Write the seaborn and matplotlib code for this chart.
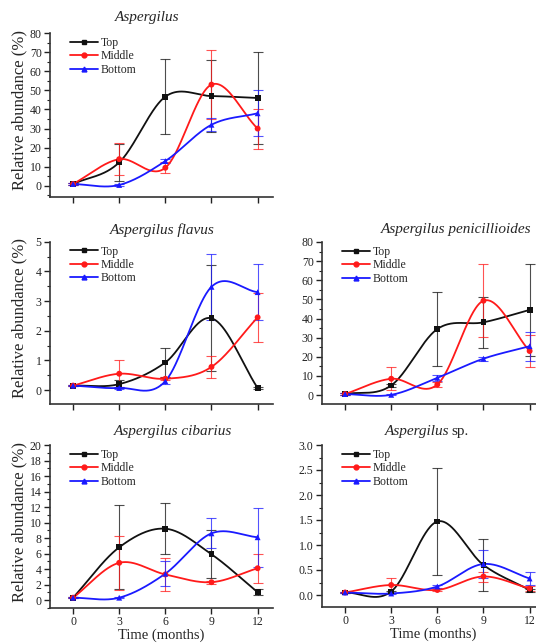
import numpy as np
import pandas as pd
import matplotlib
matplotlib.use("Agg")
import matplotlib.pyplot as plt
from matplotlib.lines import Line2D
from matplotlib.ticker import MultipleLocator
import seaborn as sns

sns.set_theme(style="ticks")
plt.rcParams['font.family'] = ['Liberation Serif', 'DejaVu Serif']

# ---------------- data ----------------
months = [0, 3, 6, 9, 12]
layers = ["Top", "Middle", "Bottom"]

# Aspergilus
asp_top = [1.0, 12.3, 46.7, 47.0, 46.0]
asp_top_err = [0.5, 9.5, 19.5, 19.0, 24.0]
asp_mid = [1.0, 14.0, 9.5, 53.0, 30.0]
asp_mid_err = [0.5, 8.5, 3.0, 18.0, 10.5]
asp_bot = [1.0, 0.5, 13.0, 32.0, 38.0]
asp_bot_err = [0.5, 0.5, 1.0, 3.5, 12.0]

# Aspergilus flavus
fla_top = [0.15, 0.20, 0.93, 2.42, 0.07]
fla_top_err = [0.03, 0.13, 0.48, 1.78, 0.02]
fla_mid = [0.15, 0.55, 0.38, 0.78, 2.45]
fla_mid_err = [0.03, 0.45, 0.05, 0.37, 0.82]
fla_bot = [0.15, 0.07, 0.30, 3.48, 3.30]
fla_bot_err = [0.03, 0.03, 0.10, 1.12, 0.95]

# Aspergilus penicillioides
pen_top = [0.5, 5.0, 34.5, 38.0, 44.5]
pen_top_err = [0.5, 1.0, 19.5, 13.4, 24.0]
pen_mid = [0.5, 8.5, 5.5, 49.3, 23.0]
pen_mid_err = [0.5, 6.0, 1.5, 19.0, 8.5]
pen_bot = [0.5, 0.1, 9.0, 19.0, 25.5]
pen_bot_err = [0.5, 0.3, 1.7, 1.0, 7.5]

# Aspergilus cibarius
cib_top = [0.3, 6.8, 9.2, 5.9, 1.0]
cib_top_err = [0.1, 5.4, 3.3, 3.1, 0.4]
cib_mid = [0.3, 4.8, 3.3, 2.3, 4.1]
cib_mid_err = [0.1, 3.5, 2.1, 0.2, 1.85]
cib_bot = [0.3, 0.3, 3.4, 8.6, 8.1]
cib_bot_err = [0.1, 0.1, 1.65, 1.95, 3.8]

# Aspergilus sp.
spp_top = [0.05, 0.07, 1.47, 0.60, 0.10]
spp_top_err = [0.01, 0.02, 1.07, 0.52, 0.03]
spp_mid = [0.05, 0.20, 0.10, 0.37, 0.13]
spp_mid_err = [0.01, 0.15, 0.02, 0.10, 0.05]
spp_bot = [0.05, 0.03, 0.17, 0.62, 0.33]
spp_bot_err = [0.01, 0.01, 0.03, 0.28, 0.13]

colors = {"Top": "#111111", "Middle": "#ff1a1a", "Bottom": "#1a1aff"}
markers = {"Top": "s", "Middle": "o", "Bottom": "^"}


def smooth_curve(x, y, n=60):
    """Cubic Hermite (Catmull-Rom style) connector through the data points."""
    x = np.asarray(x, float)
    y = np.asarray(y, float)
    m = len(x)
    slopes = np.zeros(m)
    slopes[0] = (y[1] - y[0]) / (x[1] - x[0])
    slopes[-1] = (y[-1] - y[-2]) / (x[-1] - x[-2])
    for i in range(1, m - 1):
        slopes[i] = (y[i + 1] - y[i - 1]) / (x[i + 1] - x[i - 1])
    xs_all, ys_all = [], []
    for i in range(m - 1):
        h = x[i + 1] - x[i]
        t = np.linspace(0, 1, n)
        h00 = 2 * t ** 3 - 3 * t ** 2 + 1
        h10 = t ** 3 - 2 * t ** 2 + t
        h01 = -2 * t ** 3 + 3 * t ** 2
        h11 = t ** 3 - t ** 2
        ys = h00 * y[i] + h10 * h * slopes[i] + h01 * y[i + 1] + h11 * h * slopes[i + 1]
        xs_all.append(x[i] + t * h)
        ys_all.append(ys)
    return np.concatenate(xs_all), np.concatenate(ys_all)


W, H = 536, 643
fig = plt.figure(figsize=(W / 100, H / 100), dpi=100)


def make_ax(left, right, top, bottom):
    return fig.add_axes([left / W, 1 - bottom / H, (right - left) / W, (bottom - top) / H])


panels = [
    ((asp_top, asp_mid, asp_bot), (asp_top_err, asp_mid_err, asp_bot_err),
     (50, 273, 33, 197), (-5.8, 80), 10, 5, False, True),
    ((fla_top, fla_mid, fla_bot), (fla_top_err, fla_mid_err, fla_bot_err),
     (50, 273, 241.7, 404), (-0.47, 5), 1, 0.5, False, True),
    ((pen_top, pen_mid, pen_bot), (pen_top_err, pen_mid_err, pen_bot_err),
     (322, 545, 242, 404), (-4.7, 80), 10, 5, False, False),
    ((cib_top, cib_mid, cib_bot), (cib_top_err, cib_mid_err, cib_bot_err),
     (50, 273, 445, 608), (-1.03, 20), 2, 1, True, True),
    ((spp_top, spp_mid, spp_bot), (spp_top_err, spp_mid_err, spp_bot_err),
     (322, 545, 445, 607), (-0.24, 3.0), 0.5, 0.25, True, False),
]

for series, errs, rect, ylim, major, minor, xlab, ylab in panels:
    ax = make_ax(*rect)
    df = pd.DataFrame({
        "Time": months * 3,
        "Value": [v for s in series for v in s],
        "Err": [e for s in errs for e in s],
        "Layer": [l for l in layers for _ in months],
    })
    for layer in layers:
        sub = df[df["Layer"] == layer]
        xs, ys = smooth_curve(sub["Time"], sub["Value"])
        ax.plot(xs, ys, color=colors[layer], lw=1.3, zorder=2)
        ax.errorbar(sub["Time"], sub["Value"], yerr=sub["Err"], fmt="none",
                    ecolor=colors[layer], elinewidth=0.8, capsize=3.5,
                    capthick=0.8, alpha=0.75, zorder=1)
    sns.scatterplot(data=df, x="Time", y="Value", hue="Layer", style="Layer",
                    palette=colors, markers=markers, s=18, edgecolor="none",
                    legend=False, ax=ax, zorder=3)
    ax.set_xlim(-1.5, 13)
    ax.set_xticks(months)
    ax.yaxis.set_major_locator(MultipleLocator(major))
    ax.yaxis.set_minor_locator(MultipleLocator(minor))
    ax.set_ylim(*ylim)
    ax.tick_params(axis="both", which="major", direction="out", length=4,
                   width=1.0, labelsize=8.5, colors="#222222", pad=2)
    ax.tick_params(axis="x", which="major", pad=1.5)
    ax.tick_params(axis="y", which="minor", direction="out", length=2, width=0.8,
                   colors="#222222")
    ax.tick_params(axis="x", which="minor", bottom=False)
    height_px = rect[3] - rect[2]
    if xlab:
        ax.set_xlabel("Time (months)", fontsize=10.5)
        ax.xaxis.set_label_coords(0.5, -20.5 / height_px)
    else:
        ax.tick_params(axis="x", labelbottom=False)
        ax.set_xlabel("")
    if ylab:
        ax.set_ylabel("Relative abundance (%)", fontsize=12)
        ax.yaxis.set_label_coords(-0.1, 0.53)
    else:
        ax.set_ylabel("")
    for sp in ["top", "right"]:
        ax.spines[sp].set_visible(False)
    for sp in ["left", "bottom"]:
        ax.spines[sp].set_linewidth(1.2)
        ax.spines[sp].set_color("#333333")
    handles = [Line2D([], [], color=colors[l], marker=markers[l], markersize=3.5,
                      lw=1.3) for l in layers]
    ax.legend(handles, layers, loc="upper left", bbox_to_anchor=(0.06, 1.02),
              frameon=False, fontsize=8.5, handlelength=2.3, handletextpad=0.25,
              labelspacing=0.12, borderaxespad=0.2)


def ftitle(x, y, s, ha="center"):
    fig.text(x / W, 1 - y / H, s, ha=ha, va="center", fontsize=11,
             fontstyle="italic")


ftitle(147, 17, "Aspergilus")
ftitle(162, 230, "Aspergilus flavus")
ftitle(381, 230, "Aspergilus penicillioides", ha="left")
ftitle(173, 432, "Aspergilus cibarius")
fig.text(385 / W, 1 - 432 / H, "Aspergilus", ha="left", va="center",
         fontsize=11, fontstyle="italic")
fig.text(451 / W, 1 - 432 / H, "sp.", ha="left", va="center", fontsize=11)

fig.savefig("out.png", dpi=100)
